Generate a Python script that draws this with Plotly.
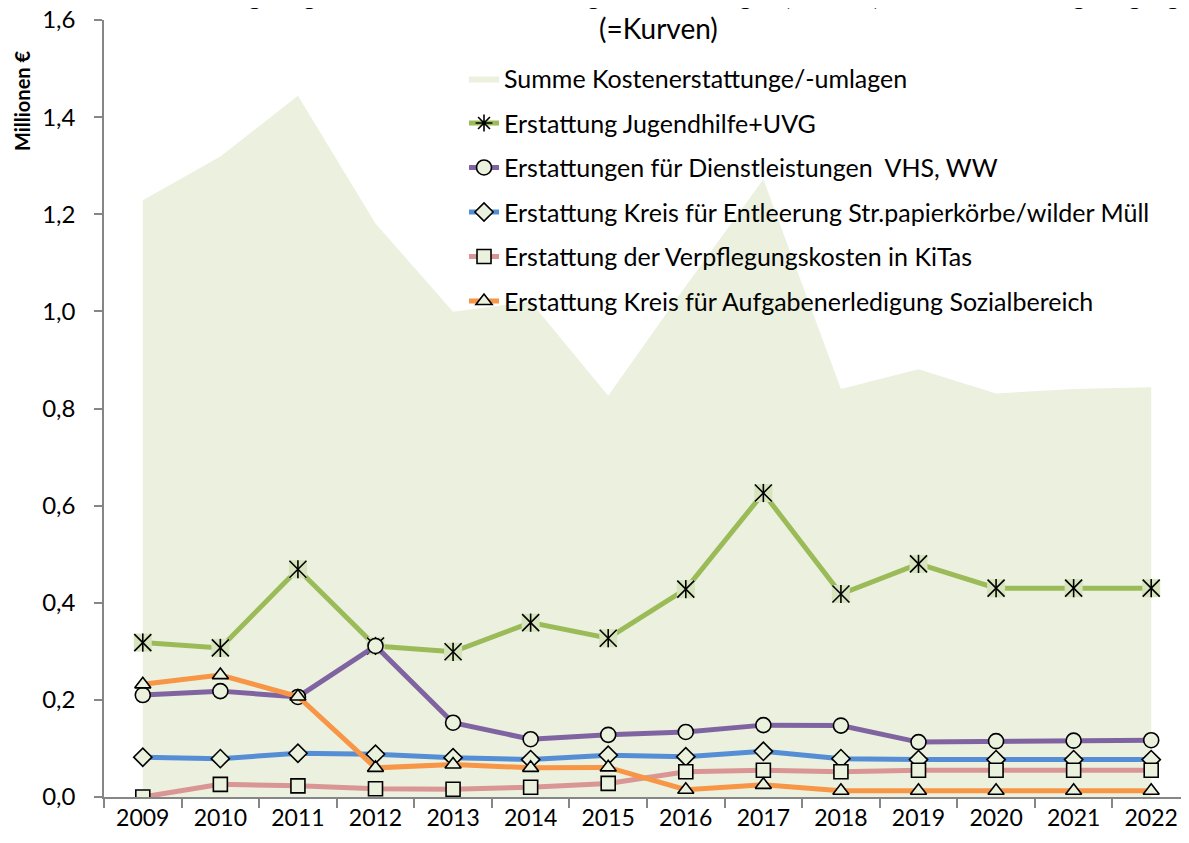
import plotly.graph_objects as go

years = [str(y) for y in range(2009, 2023)]
summe = [1.229, 1.319, 1.444, 1.181, 0.999, 1.020, 0.826, 1.052, 1.272, 0.840, 0.881, 0.831, 0.840, 0.844]
jugend = [0.318, 0.307, 0.469, 0.311, 0.299, 0.359, 0.327, 0.428, 0.626, 0.418, 0.480, 0.430, 0.430, 0.430]
dienst = [0.210, 0.218, 0.206, 0.311, 0.153, 0.119, 0.128, 0.134, 0.148, 0.147, 0.113, 0.115, 0.116, 0.117]
entleer = [0.082, 0.079, 0.090, 0.088, 0.081, 0.077, 0.086, 0.083, 0.094, 0.079, 0.077, 0.077, 0.077, 0.077]
verpfl = [0.000, 0.026, 0.023, 0.017, 0.016, 0.020, 0.028, 0.052, 0.055, 0.052, 0.055, 0.055, 0.055, 0.055]
sozial = [0.232, 0.251, 0.207, 0.060, 0.067, 0.060, 0.061, 0.015, 0.025, 0.013, 0.013, 0.013, 0.013, 0.013]

names = [
    "Summe Kostenerstattunge/-umlagen",
    "Erstattung Jugendhilfe+UVG",
    "Erstattungen für Dienstleistungen  VHS, WW",
    "Erstattung Kreis für Entleerung Str.papierkörbe/wilder Müll",
    "Erstattung der Verpflegungskosten in KiTas",
    "Erstattung Kreis für Aufgabenerledigung Sozialbereich",
]

AREA = "#EBF1DE"
MFILL = "#EAF1DD"
FONT = "Lato"

fig = go.Figure()

fig.add_trace(go.Scatter(
    x=years, y=summe, name=names[0], mode="lines", fill="tozeroy",
    fillcolor=AREA, line=dict(width=0, color=AREA), legendgroup="g0",
))

# green: line + asterisk (legend), light square background, then X + vertical bar
fig.add_trace(go.Scatter(
    x=years, y=jugend, name=names[1], mode="lines+markers", legendgroup="g1",
    line=dict(color="#9BBB59", width=5),
    marker=dict(symbol="asterisk-open", size=14, color="black", line=dict(color="black", width=1.6)),
))
fig.add_trace(go.Scatter(
    x=years, y=jugend, mode="markers", showlegend=False, hoverinfo="skip", legendgroup="g1",
    marker=dict(symbol="square", size=18, color="#D7E4BD", line=dict(width=0)),
))
fig.add_trace(go.Scatter(
    x=years, y=jugend, mode="markers", showlegend=False, hoverinfo="skip", legendgroup="g1",
    marker=dict(symbol="x-thin-open", size=17, color="black", line=dict(color="black", width=1.6)),
))
fig.add_trace(go.Scatter(
    x=years, y=jugend, mode="markers", showlegend=False, hoverinfo="skip", legendgroup="g1",
    marker=dict(symbol="line-ns-open", size=13, color="black", line=dict(color="black", width=1.6)),
))

specs = [
    (dienst, names[2], "#8064A2", "circle", 15),
    (entleer, names[3], "#558ED5", "diamond", 14),
    (verpfl, names[4], "#D99694", "square", 14),
    (sozial, names[5], "#F79646", "triangle-up", 14),
]
for i, (vals, nm, col, sym, sz) in enumerate(specs):
    fig.add_trace(go.Scatter(
        x=years, y=vals, name=nm, mode="lines+markers", legendgroup=f"g{i+2}",
        line=dict(color=col, width=5),
        marker=dict(symbol=sym, size=sz, color=MFILL, line=dict(color="black", width=1.6)),
    ))

fig.update_layout(
    width=1189, height=843,
    margin=dict(l=96, r=7, t=12, b=54),
    paper_bgcolor="white", plot_bgcolor="white",
    separators=", ",
    showlegend=True,
    legend=dict(
        x=0.3315, y=0.954, xanchor="left", yanchor="top",
        bgcolor="rgba(0,0,0,0)", borderwidth=0,
        font=dict(family=FONT, size=25, color="#000000"),
        tracegroupgap=9, traceorder="grouped",
    ),
    xaxis=dict(
        type="category", range=[-0.5, 13.5], automargin=False,
        showline=True, linecolor="#868686", linewidth=1.5,
        ticks="outside", tickson="boundaries", ticklen=9, tickcolor="#868686", tickwidth=1.5,
        showgrid=False, zeroline=False,
        tickfont=dict(family=FONT, size=23, color="#000000"),
    ),
    yaxis=dict(
        range=[0, 1.6], dtick=0.2, tickformat=".1f", automargin=False,
        showline=True, linecolor="#868686", linewidth=1.5,
        ticks="outside", ticklen=8, tickcolor="#868686", tickwidth=1.5,
        ticklabelstandoff=14, ticklabeloverflow="allow",
        showgrid=False, zeroline=False,
        tickfont=dict(family=FONT, size=24, color="#000000"),
    ),
    annotations=[
        dict(text="<b>Entwicklung ausgewählter Kostenerstattungen und -umlagen (=Fläche) und deren Zahlungseingänge</b>",
             xref="paper", yref="paper", x=0.513, y=1.0, yshift=8, xanchor="center", yanchor="bottom",
             showarrow=False, font=dict(family=FONT, size=24, color="#000000")),
        dict(text="(=Kurven)", xref="paper", yref="paper", x=0.511, y=1.0, yshift=-27,
             xanchor="center", yanchor="bottom", showarrow=False,
             font=dict(family=FONT, size=28, color="#000000")),
        dict(text="<b>Millionen €</b>", xref="paper", yref="paper", x=0, y=1.0, xshift=-82, yshift=-81,
             xanchor="center", yanchor="middle", textangle=-90, showarrow=False,
             font=dict(family=FONT, size=20, color="#000000")),
    ],
)

fig.write_html("out.html", config={"displayModeBar": False})
